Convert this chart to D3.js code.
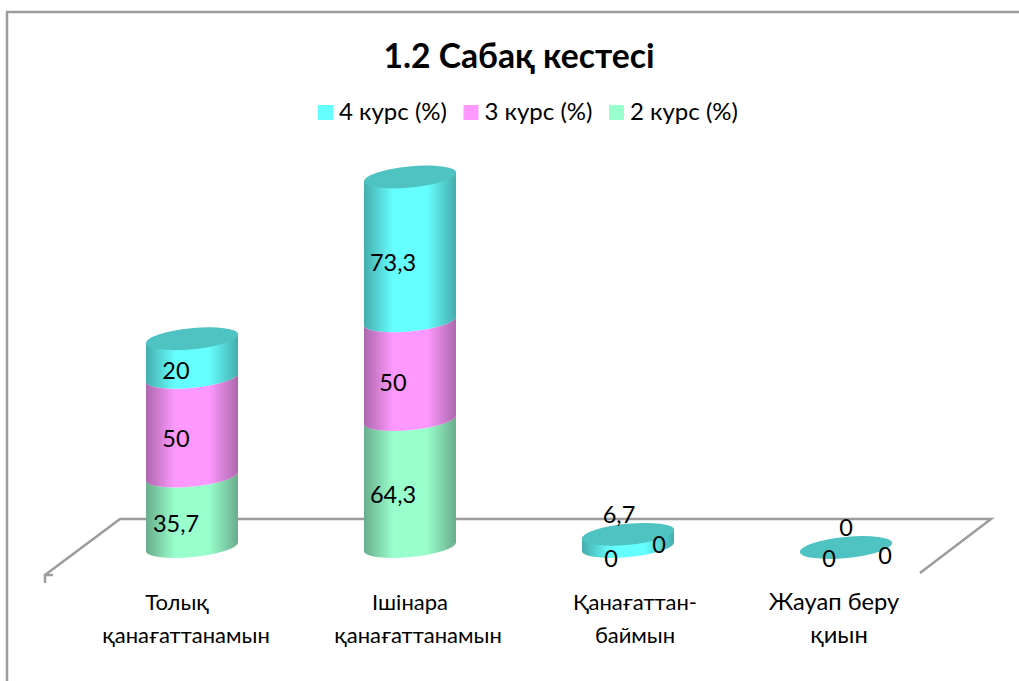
<!DOCTYPE html>
<html>
<head>
<meta charset="utf-8">
<script src="https://cdn.jsdelivr.net/npm/d3@7"></script>
<style>
  html, body { margin: 0; padding: 0; background: #fff; }
  svg { display: block; }
  text { font-family: Lato, "Open Sans", "Noto Sans", sans-serif; fill: #000; }
</style>
</head>
<body>
<svg width="1019" height="681"></svg>
<script>
// values, bottom segment first
const categories = [['Толық', 'қанағаттанамын'], ['Ішінара', 'қанағаттанамын'], ['Қанағаттан-', 'баймын'], ['Жауап беру', 'қиын']];
const course2 = [35.7, 64.3, 0, 0];
const course3 = [50, 50, 0, 0];
const course4 = [20, 73.3, 6.7, 0];
const seriesNames = ['2 курс (%)', '3 курс (%)', '4 курс (%)'];
const legendOrder = [2, 1, 0];

const title = '1.2 Сабақ кестесі';

const fills = ['#99ffcc', '#ff99ff', '#66ffff'];
const edges = ['#69ad8c', '#ad68ad', '#45adad'];
const capColor = '#4fc3c1';
const lineColor = '#9c9c9c';

// hand placed data labels, offset from the middle of each segment (the original has them dragged around)
const labelNudge = [
  [[-16, 12], [-16, 11], [-16, 13]],
  [[-17, 11], [-17, 12], [-17, 14]],
  [[-17, 11], [31, -3], [-9, -26]],
  [[-17, 11], [39, 8], [0, -20]]
];
// category label lines are not centred the same way in the original
const catNudge = [[-15, -6], [0, 8], [7, 7], [-12, -7]];

const svg = d3.select('svg');

const x = d3.scalePoint().domain(d3.range(categories.length)).range([192, 846]);
const y = d3.scaleLinear().domain([0, 100]).range([547.5, 350]);

const halfW = 46;
const capH = 10.5;
const tiltY = 4.5;
const tilt = -5.6;

// chart frame: top and left sides only
svg.append('path')
  .attr('d', 'M7,681V12H1019')
  .attr('fill', 'none')
  .attr('stroke', lineColor)
  .attr('stroke-width', 2.5);

// floor
svg.append('path')
  .attr('d', 'M45,583V575H53M45,575L120,519H991L920,573')
  .attr('fill', 'none')
  .attr('stroke', lineColor)
  .attr('stroke-width', 2.5);

const defs = svg.append('defs');
fills.forEach((c, i) => {
  const g = defs.append('linearGradient').attr('id', 'g' + i);
  g.append('stop').attr('offset', '0%').attr('stop-color', edges[i]);
  g.append('stop').attr('offset', '32%').attr('stop-color', c);
  g.append('stop').attr('offset', '68%').attr('stop-color', c);
  g.append('stop').attr('offset', '100%').attr('stop-color', edges[i]);
});

function segment(cx, y0, y1) {
  const l = cx - halfW, r = cx + halfW;
  return `M${l},${y1 + tiltY}L${l},${y0 + tiltY}` +
    `A${halfW + 0.4},${capH} ${tilt} 0 0 ${r},${y0 - tiltY}` +
    `L${r},${y1 - tiltY}` +
    `A${halfW + 0.4},${capH} ${tilt} 0 1 ${l},${y1 + tiltY}Z`;
}

const stacked = categories.map((c, i) => {
  const vals = [course2[i], course3[i], course4[i]];
  let sum = 0;
  return vals.map((v, s) => {
    const seg = { cat: i, s: s, v: v, from: sum, to: sum + v };
    sum += v;
    return seg;
  });
});

const bars = svg.selectAll('.bar').data(stacked).enter().append('g').attr('class', 'bar');

bars.selectAll('path.seg')
  .data(d => d.filter(s => s.v > 0))
  .enter().append('path')
  .attr('class', 'seg')
  .attr('fill', d => `url(#g${d.s})`)
  .attr('d', d => segment(x(d.cat), y(d.from), y(d.to)));

bars.append('ellipse')
  .attr('cx', (d, i) => x(i))
  .attr('cy', d => y(d[2].to))
  .attr('rx', halfW + 0.4)
  .attr('ry', capH)
  .attr('fill', capColor)
  .attr('transform', (d, i) => `rotate(${tilt} ${x(i)} ${y(d[2].to)})`);

// data labels
svg.selectAll('.val')
  .data(stacked.flat())
  .enter().append('text')
  .attr('class', 'val')
  .attr('x', d => x(d.cat) + labelNudge[d.cat][d.s][0])
  .attr('y', d => (y(d.from) + y(d.to)) / 2 + labelNudge[d.cat][d.s][1] + 8)
  .attr('text-anchor', 'middle')
  .attr('font-size', 23.5)
  .text(d => String(d.v).replace('.', ','));

// category labels
categories.forEach((lines, i) => {
  const t = svg.append('text')
    .attr('text-anchor', 'middle')
    .attr('font-size', i == 3 ? 23.7 : 22);
  lines.forEach((s, j) => {
    t.append('tspan')
      .attr('x', x(i) + catNudge[i][j])
      .attr('y', 610 + j * 33)
      .text(s);
  });
});

// title
svg.append('text')
  .attr('x', 519)
  .attr('y', 68)
  .attr('text-anchor', 'middle')
  .attr('font-size', 33.7)
  .attr('font-weight', 'bold')
  .text(title);

// legend
const legendX = d3.scalePoint().domain(legendOrder).range([318, 609]);
legendOrder.forEach((s) => {
  svg.append('rect')
    .attr('x', legendX(s))
    .attr('y', 105)
    .attr('width', 15)
    .attr('height', 15)
    .attr('fill', fills[s]);
  svg.append('text')
    .attr('x', legendX(s) + 21)
    .attr('y', 120)
    .attr('font-size', 24)
    .text(seriesNames[s]);
});
</script>
</body>
</html>
